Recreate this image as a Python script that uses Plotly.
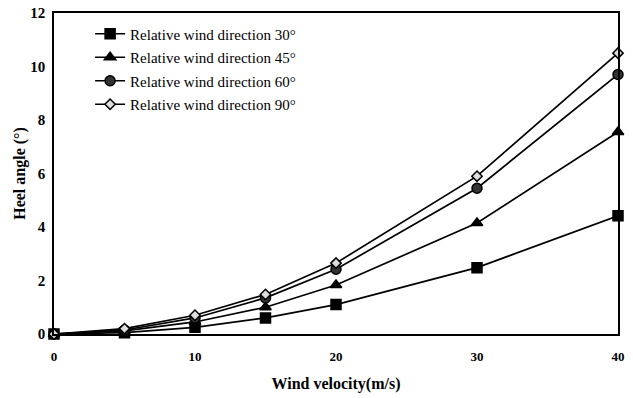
import plotly.graph_objects as go

wind = [0, 5, 10, 15, 20, 30, 40]
dir30 = [0, 0.05, 0.25, 0.6, 1.1, 2.48, 4.42]
dir45 = [0, 0.12, 0.45, 1.0, 1.83, 4.15, 7.55]
dir60 = [0, 0.15, 0.6, 1.35, 2.42, 5.45, 9.7]
dir90 = [0, 0.2, 0.7, 1.48, 2.65, 5.9, 10.5]

names = ["Relative wind direction 30°", "Relative wind direction 45°",
         "Relative wind direction 60°", "Relative wind direction 90°"]
series = [dir30, dir45, dir60, dir90]
symbols = ["square", "triangle-up", "circle", "diamond"]
sizes = [10, 10, 10, 8]
fills = ["black", "black", "#333333", "#dddddd"]

fig = go.Figure()
for i, (nm, ys) in enumerate(zip(names, series)):
    fig.add_trace(go.Scatter(
        x=wind, y=ys, name=nm, mode="lines+markers", legendgroup=str(i),
        cliponaxis=False,
        line=dict(color="black", width=1.7),
        marker=dict(symbol=symbols[i], size=sizes[i], color=fills[i],
                    line=dict(color="black", width=1.5)),
    ))

serif = "Liberation Serif, serif"
fig.update_layout(
    width=633, height=398,
    margin=dict(l=54, r=15, t=13, b=64, autoexpand=False),
    paper_bgcolor="white", plot_bgcolor="white",
    font=dict(family=serif, color="black", size=14),
    showlegend=True,
    legend=dict(x=0.064, y=0.986, xanchor="left", yanchor="top",
                bgcolor="rgba(0,0,0,0)", font=dict(size=15, family=serif),
                tracegroupgap=1, traceorder="grouped"),
    xaxis=dict(range=[0, 40], tickvals=[0, 10, 20, 30, 40], showgrid=False,
               zeroline=False, showline=True, linecolor="black", linewidth=1.5,
               mirror=True, ticks="", ticklabelstandoff=10,
               tickfont=dict(size=13, family=serif, weight="bold"),
               title=dict(text="Wind velocity(m/s)", font=dict(size=16, family=serif, weight="bold"),
                          standoff=14)),
    yaxis=dict(range=[0, 12], tickvals=[0, 2, 4, 6, 8, 10, 12], showgrid=False,
               zeroline=False, showline=True, linecolor="black", linewidth=1.5,
               mirror=True, ticks="", ticklabelstandoff=4,
               tickfont=dict(size=15, family=serif, weight="bold"),
               title=dict(text="Heel angle (°)", font=dict(size=16, family=serif, weight="bold"),
                          standoff=1)),
)
fig.write_html("out.html", config={"displayModeBar": False},
               post_script="document.body.style.margin='0';")
